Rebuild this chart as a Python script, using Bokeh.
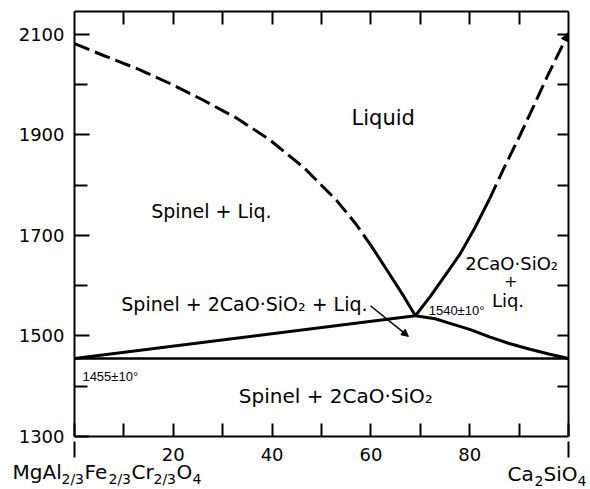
from bokeh.plotting import figure
from bokeh.models import LinearAxis, FixedTicker, Label, Arrow, NormalHead, Range1d
from bokeh.embed import file_html
from bokeh.resources import INLINE
from bokeh.core.properties import value

# ---------------- data ----------------
x_lo, x_hi = 0, 100
t_lo, t_hi = 1300, 2145

t_major = [1300, 1500, 1700, 1900, 2100]
t_minor = [1400, 1600, 1800, 2000]
t_right = [1400, 1500, 1600, 1700, 1800, 1900, 2000, 2100]
x_major = [0, 20, 40, 60, 80, 100]
x_minor = [10, 30, 50, 70, 90]
x_top = [10, 20, 30, 40, 50, 60, 70, 80, 90]
x_end_ticks = [0, 100]

# liquidus, spinel side (dashed = estimated, solid = determined)
liq_left_dash_x = [0, 6, 13, 19.5, 26, 33, 39.5, 46.5, 53, 57, 60]
liq_left_dash_t = [2081, 2057, 2030, 2001, 1969, 1932, 1890, 1834, 1770, 1722, 1680]
liq_left_solid_x = [60, 63.3, 66.7, 69]
liq_left_solid_t = [1680, 1630, 1578, 1540]

# liquidus, Ca2SiO4 side
liq_right_solid_x = [69, 72, 75, 78, 81, 84]
liq_right_solid_t = [1540, 1578, 1620, 1662, 1714, 1772]
liq_right_dash_x = [84, 87, 90, 93, 96, 100]
liq_right_dash_t = [1772, 1835, 1895, 1958, 2022, 2102]

# solidus curves
sol_left_x = [0, 69]
sol_left_t = [1455, 1540]
sol_right_x = [69, 73, 76, 80, 84, 88, 92, 96, 100]
sol_right_t = [1540, 1534, 1525, 1513, 1498, 1485, 1474, 1464, 1455]

# invariant line
inv_x = [0, 100]
inv_t = [1455, 1455]

# leader for the three-phase field label
leader_x = [59.9, 67.6]
leader_t = [1560, 1499]

# component names (pieces: main text and subscripts)
left_main = ["MgAl", "Fe", "Cr", "O"]
left_sub = ["2/3", "2/3", "2/3", "4"]
right_main = ["Ca", "SiO"]
right_sub = ["2", "4"]

FONT = "DejaVu Sans"
FONT_SMALL = "Liberation Sans"
FRAME_W, FRAME_H = 494, 425

p = figure(frame_width=FRAME_W, frame_height=FRAME_H,
           x_range=Range1d(x_lo, x_hi), y_range=Range1d(t_lo, t_hi),
           x_axis_type=None, y_axis_type=None,
           output_backend="svg", toolbar_location=None,
           min_border_left=74, min_border_right=20, min_border_top=11, min_border_bottom=52)
p.outline_line_color = None
p.background_fill_color = "white"
p.border_fill_color = "white"


def style(ax, tick_in, minor_in=0, labels=True, standoff=10):
    ax.axis_line_width = 2
    ax.axis_line_color = "black"
    ax.major_tick_line_width = 2
    ax.minor_tick_line_width = 2
    ax.major_tick_line_color = "black"
    ax.minor_tick_line_color = "black"
    ax.major_tick_in = tick_in
    ax.major_tick_out = 0
    ax.minor_tick_in = minor_in
    ax.minor_tick_out = 0
    ax.major_label_standoff = standoff
    ax.major_label_text_font = FONT
    ax.major_label_text_color = "black"
    ax.major_label_text_font_size = "18px" if labels else "0px"


left = LinearAxis(ticker=FixedTicker(ticks=t_major, minor_ticks=t_minor))
style(left, 15, 13, standoff=10)
p.add_layout(left, "left")

bottom = LinearAxis(ticker=FixedTicker(ticks=x_major, minor_ticks=x_minor),
                    major_label_overrides={0: "", 100: ""})
style(bottom, 13, 13, standoff=11)
p.add_layout(bottom, "below")

top = LinearAxis(ticker=FixedTicker(ticks=x_top, minor_ticks=[]),
                 major_label_overrides={v: "" for v in x_top})
style(top, 13, 0, labels=False, standoff=0)
p.add_layout(top, "above")

right = LinearAxis(ticker=FixedTicker(ticks=t_right, minor_ticks=[]),
                   major_label_overrides={v: "" for v in t_right})
style(right, 11, 0, labels=False, standoff=0)
p.add_layout(right, "right")

# outward end ticks at the two pure components (drawn unclipped, below the frame)
px_t = (t_hi - t_lo) / FRAME_H
p.segment(x0=x_end_ticks, y0=[t_lo - 5 * px_t] * 2, x1=x_end_ticks, y1=[t_lo - 21 * px_t] * 2,
          line_width=2, line_color="black", level="overlay")

# ---------------- curves ----------------
LW = 3
p.line(liq_left_dash_x, liq_left_dash_t, line_width=LW, line_color="black", line_dash="16 6")
p.line(liq_left_solid_x, liq_left_solid_t, line_width=LW, line_color="black")
p.line(liq_right_solid_x, liq_right_solid_t, line_width=LW, line_color="black")
p.line(liq_right_dash_x, liq_right_dash_t, line_width=LW, line_color="black", line_dash="16 6")
p.line(sol_left_x, sol_left_t, line_width=LW, line_color="black")
p.line(sol_right_x, sol_right_t, line_width=LW, line_color="black")
p.line(inv_x, inv_t, line_width=2.5, line_color="black")

# arrow tip at the end of the Ca2SiO4 liquidus
p.add_layout(Arrow(end=NormalHead(size=8, fill_color="black", line_color="black", line_width=1),
                   x_start=liq_right_dash_x[-2], y_start=liq_right_dash_t[-2],
                   x_end=liq_right_dash_x[-1], y_end=liq_right_dash_t[-1], line_alpha=0))

# leader arrow
p.add_layout(Arrow(end=NormalHead(size=7, fill_color="black", line_color="black", line_width=1),
                   x_start=leader_x[0], y_start=leader_t[0],
                   x_end=leader_x[1], y_end=leader_t[1],
                   line_width=1.5, line_color="black"))

# ---------------- text ----------------
def lab(x, y, text, size, align="center", font=FONT):
    p.add_layout(Label(x=x, y=y, text=text, text_font=font, text_font_size=size,
                       text_align=align, text_baseline="middle", text_color="black"))

lab(62.5, 1934, "Liquid", "21px")
lab(27.7, 1749, "Spinel + Liq.", "19px")
lab(34.4, 1564, "Spinel + 2CaO·SiO₂ + Liq.", "19px")
lab(52.9, 1381, "Spinel + 2CaO·SiO₂", "20px")
lab(88.5, 1644, "2CaO·SiO₂", "18px")
lab(88.3, 1610, "+", "16px")
lab(87.75, 1570, "Liq.", "18px")
lab(71.7, 1550, "1540±10°", "13px", align="left", font=FONT_SMALL)
lab(1.6, 1419, "1455±10°", "13px", align="left", font=FONT_SMALL)

# component names under the axis ends (glyphs on the overlay level, not clipped)
def names(x0, mains, main_dx, subs, sub_dx, main_dy, sub_dy):
    p.text(x=[x0] * len(mains), y=[t_lo] * len(mains), text=mains,
           x_offset=main_dx, y_offset=[main_dy] * len(mains),
           text_font=value(FONT), text_font_size=value("20px"),
           text_align="left", text_baseline="middle", text_color="black", level="overlay")
    p.text(x=[x0] * len(subs), y=[t_lo] * len(subs), text=subs,
           x_offset=sub_dx, y_offset=[sub_dy] * len(subs),
           text_font=value(FONT), text_font_size=value("14px"),
           text_align="left", text_baseline="middle", text_color="black", level="overlay")

names(x_lo, left_main, [-62, 10, 57, 102], left_sub, [-13, 34, 79, 118], 35, 42)
names(x_hi, right_main, [-61, -25], right_sub, [-34, 9], 37, 44)

open("out.html", "w").write(file_html(p, INLINE))
